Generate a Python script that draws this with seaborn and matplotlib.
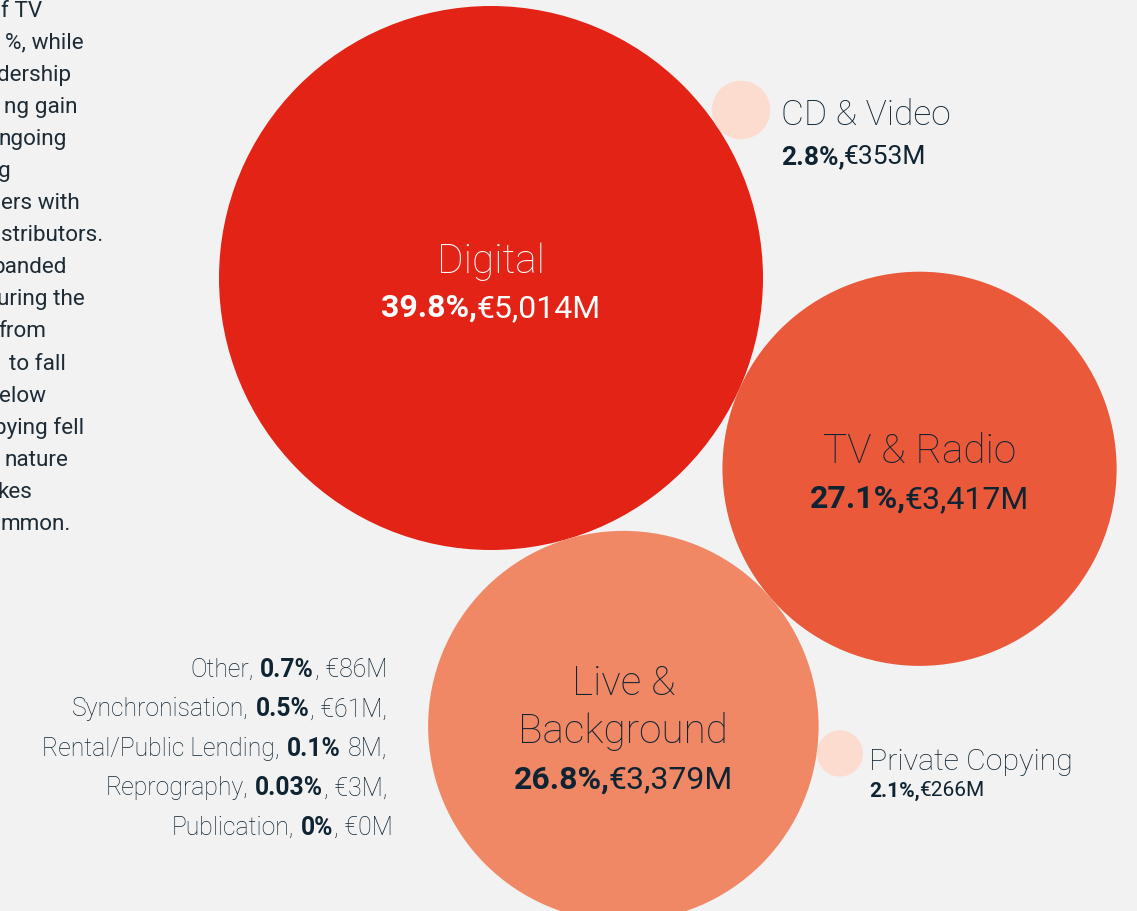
import numpy as np
import pandas as pd
import matplotlib
matplotlib.use("Agg")
import matplotlib.pyplot as plt
import seaborn as sns

# ---------------- data ----------------
categories = ["Digital", "TV & Radio", "Live & Background", "CD & Video", "Private Copying"]
shares = [39.8, 27.1, 26.8, 2.8, 2.1]          # % of total collections
amounts = [5014, 3417, 3379, 353, 266]          # € millions

minor_names = ["Other", "Synchronisation", "Rental/Public Lending", "Reprography", "Publication"]
minor_shares = ["0.7%", "0.5%", "0.1%", "0.03%", "0%"]
minor_share_sep = [",", ",", "", ",", ","]
minor_amounts = ["€86M", "€61M,", "8M,", "€3M,", "€0M"]

paragraph_lines = ["f TV", "%, while", "dership", "ng gain", "ngoing", "g", "ers with",
                   "stributors.", "panded", "uring the", "from", "to fall", "elow",
                   "pying fell", "nature", "kes", "mmon."]

# ---------------- styles / layout ----------------
colors = {"Digital": "#E32315", "TV & Radio": "#E9593A", "Live & Background": "#F08866",
          "CD & Video": "#FCDCCE", "Private Copying": "#FCDCCE"}
BG = "#F2F2F2"
DARK = "#0F2433"
W, H, DPI = 1137, 912, 100
R_MAX = 272.0        # px radius of the largest bubble
EXP = 0.84           # radius power scale exponent

sns.set_theme(style="white")
plt.rcParams["font.family"] = ["Roboto", "DejaVu Sans"]

fig = plt.figure(figsize=(W / DPI, H / DPI), dpi=DPI, facecolor=BG)
ax = fig.add_axes([0, 0, 1, 1])
ax.set_facecolor(BG)

vmax = max(amounts)
radius = {c: R_MAX * (v / vmax) ** EXP for c, v in zip(categories, amounts)}

# packed layout: bubbles tangent to neighbours
def tangent(center, r1, r2, ang_deg):
    a = np.deg2rad(ang_deg)
    d = r1 + r2
    return (center[0] + d * np.cos(a), center[1] + d * np.sin(a))

pos = {}
pos["Digital"] = (491.0, 279.0)
pos["TV & Radio"] = tangent(pos["Digital"], radius["Digital"], radius["TV & Radio"], 24.0)
# Live & Background tangent to both Digital and TV & Radio
D, T = np.array(pos["Digital"]), np.array(pos["TV & Radio"])
a_ = radius["Digital"] + radius["Live & Background"]
b_ = radius["TV & Radio"] + radius["Live & Background"]
dDT = np.linalg.norm(T - D)
theta = np.degrees(np.arccos((a_ ** 2 + dDT ** 2 - b_ ** 2) / (2 * a_ * dDT)))
angDT = np.degrees(np.arctan2(T[1] - D[1], T[0] - D[0]))
pos["Live & Background"] = tangent(pos["Digital"], radius["Digital"], radius["Live & Background"], angDT + theta)
pos["CD & Video"] = tangent(pos["Digital"], radius["Digital"], radius["CD & Video"], -33.9)
pos["Private Copying"] = tangent(pos["Live & Background"], radius["Live & Background"],
                                 radius["Private Copying"], 7.2)

df = pd.DataFrame({
    "category": categories,
    "x": [pos[c][0] for c in categories],
    "y": [pos[c][1] for c in categories],
})
marker_area = {c: (2 * radius[c] * 72 / DPI) ** 2 for c in categories}

sns.scatterplot(data=df, x="x", y="y", hue="category", palette=colors,
                size="category", sizes=marker_area, linewidth=0, alpha=1,
                legend=False, ax=ax, zorder=2)

ax.set_xlim(0, W)
ax.set_ylim(H, 0)
ax.axis("off")

fig.canvas.draw()
renderer = fig.canvas.get_renderer()


def text_runs(x, y, parts, ha="left", size=16, color=DARK):
    """parts: list of (string, weight, gap_before_px)"""
    arts = []
    for s, w, g in parts:
        t = ax.text(0, y, s, fontsize=size, fontweight=w, color=color,
                    ha="left", va="baseline", zorder=5)
        arts.append((t, g))
    widths = [t.get_window_extent(renderer).width for t, _ in arts]
    total = sum(widths) + sum(g for _, g in arts)
    if ha == "center":
        cur = x - total / 2
    elif ha == "right":
        cur = x - total
    else:
        cur = x
    for (t, g), w in zip(arts, widths):
        cur += g
        t.set_x(cur)
        cur += w


def value_parts(share, amount):
    return [(f"{share:g}%,", "bold", 0), (f"€{amount:,}M", "normal", -1)]


NAME_PT, VALUE_PT = 29.2, 23.0
# bubble labels
for c, share, amount in zip(categories, shares, amounts):
    cx, cy = pos[c]
    r = radius[c]
    col = "white" if c == "Digital" else DARK
    if c == "Digital":
        text_runs(cx, cy - 6, [(c, "light", 0)], ha="center", size=NAME_PT, color=col)
        text_runs(cx, cy + 38, value_parts(share, amount), ha="center", size=VALUE_PT, color=col)
    elif c == "TV & Radio":
        text_runs(cx, cy - 7, [(c, "light", 0)], ha="center", size=NAME_PT, color=col)
        text_runs(cx, cy + 38, value_parts(share, amount), ha="center", size=VALUE_PT, color=col)
    elif c == "Live & Background":
        text_runs(cx, cy - 32, [("Live &", "light", 0)], ha="center", size=NAME_PT, color=col)
        text_runs(cx, cy + 16, [("Background", "light", 0)], ha="center", size=NAME_PT, color=col)
        text_runs(cx, cy + 61, value_parts(share, amount), ha="center", size=VALUE_PT, color=col)
    elif c == "CD & Video":
        x0 = cx + r + 11
        text_runs(x0, cy + 14, [(c, "light", 0)], size=25.5, color=col)
        text_runs(x0, cy + 53, value_parts(share, amount), size=19, color=col)
    elif c == "Private Copying":
        x0 = cx + r + 6
        text_runs(x0, cy + 16, [(c, "light", 0)], size=21.8, color=col)
        text_runs(x0, cy + 42, value_parts(share, amount), size=15, color=col)

# minor categories list (right aligned)
LIST_PT = 17.8
space_px = 6.0
for i, (nm, sh, sep, am) in enumerate(zip(minor_names, minor_shares, minor_share_sep, minor_amounts)):
    y = 676.7 + 39.6 * i
    parts = [(nm + ",", "light", 0), (sh, "bold", space_px + 1)]
    if sep:
        parts.append((sep + " " + am, "light", 0.5))
    else:
        parts.append((am, "light", space_px + 1))
    right = 393 if i == len(minor_names) - 1 else 393 - space_px
    text_runs(right, y, parts, ha="right", size=LIST_PT, color="#0F2433")

# cut-off explanatory paragraph on the left edge
para_right = [42.7, 83.3, 70.7, 77.3, 67, 11, 80, 103, 67, 85, 46, 66, 46, 84, 68.3, 32.3, 71]
for i, (line, xr) in enumerate(zip(paragraph_lines, para_right)):
    ax.text(xr, 16.7 + 32.08 * i, line, fontsize=16.2, color="#1C2B36",
            ha="right", va="baseline", zorder=5)

fig.savefig("out.png", dpi=DPI, facecolor=BG)
